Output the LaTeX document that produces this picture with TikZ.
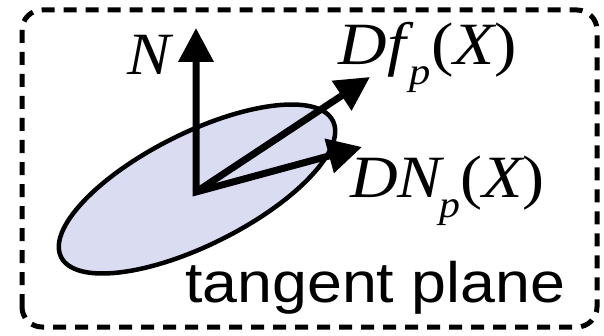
\documentclass[tikz,border=0pt]{standalone}
\usepackage{fontspec}
\setmainfont{Liberation Serif}
\newfontfamily\sanss{Liberation Sans}
\usetikzlibrary{arrows.meta}
\definecolor{planefill}{RGB}{218,220,242}
\newcommand{\subp}{\raisebox{-20pt}{\fontsize{38}{38}\selectfont\itshape p}}
\begin{document}
\begin{tikzpicture}[x=1pt,y=1pt,
  vec/.style={line width=7pt,line join=miter},
  lbl/.style={inner sep=0pt,anchor=base west,font=\fontsize{60}{60}\selectfont\itshape}]
\useasboundingbox (0,0) rectangle (604,335);
\draw[line width=5pt, dash pattern=on 13pt off 9pt, rounded corners=20pt] (22,8) rectangle (597,325);
\draw[line width=4.5pt, fill=planefill, rotate around={26.6:(197,146)}] (197,146) ellipse [x radius=152, y radius=56];
\coordinate (O) at (196,143);
\coordinate (Ntip) at (196,307);
\coordinate (Dftip) at (370,258);
\coordinate (DNtip) at (362,188);
\draw[vec,{Triangle[length=34pt,width=34pt]}-{Triangle[length=34pt,width=34pt]}] (Ntip) -- (O) -- (DNtip);
\draw[vec,-{Triangle[length=34pt,width=34pt]}] (O) -- (Dftip);
\node[lbl] (Nl) at (127,260) {\scalebox{1.08}[1]{N}};
\node[lbl] (Dfl) at (338,270) {\scalebox{1.12}[1]{D\kern1pt f\kern3pt\subp\upshape(\itshape X\upshape)}};
\node[lbl] (DNl) at (350,138) {\scalebox{1.1}[1]{DN\kern-2pt\subp\upshape(\itshape X\upshape)}};
\node[inner sep=0pt,anchor=base west,font=\sanss\fontsize{57}{57}\selectfont] (tp) at (185,33) {\scalebox{1.1}[1]{tangent plane}};
\end{tikzpicture}
\end{document}
